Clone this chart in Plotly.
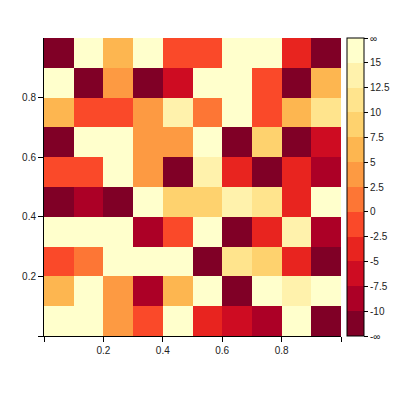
import numpy as np
import plotly.graph_objects as go

# cell centres along x and y (10 x 10 grid on [0, 1])
x_centers = [0.05, 0.15, 0.25, 0.35, 0.45, 0.55, 0.65, 0.75, 0.85, 0.95]
y_centers = [0.95, 0.85, 0.75, 0.65, 0.55, 0.45, 0.35, 0.25, 0.15, 0.05]  # top row first

# estimated values, top row first
row_1 = [-14.2, 19.5, 6.1, 17.8, -1.2, -0.8, 21.3, 16.4, -3.9, -13.1]
row_2 = [18.7, -12.5, 3.8, -15.6, -6.2, 20.9, 17.2, -1.4, -11.8, 6.4]
row_3 = [5.9, -1.6, -0.9, 4.2, 13.6, 1.3, 19.1, -1.1, 6.3, 11.4]
row_4 = [-16.3, 18.2, 22.4, 3.6, 4.4, 16.9, -12.9, 8.8, -14.7, -5.8]
row_5 = [-1.3, -0.7, 20.6, 4.1, -13.4, 13.2, -4.3, -17.1, -3.7, -8.9]
row_6 = [-12.2, -9.1, -15.9, 18.4, 9.2, 8.9, 13.9, 11.1, -4.1, 17.3]
row_7 = [16.8, 21.7, 19.9, -8.6, -1.5, 18.1, -14.4, -3.6, 13.4, -8.8]
row_8 = [-1.0, 1.4, 17.6, 20.2, 19.4, -13.8, 11.3, 9.4, -4.2, -15.2]
row_9 = [6.2, 18.9, 3.9, -9.3, 6.0, 16.2, -12.1, 20.8, 14.1, 17.7]
row_10 = [19.3, 16.6, 4.3, -1.3, 22.1, -3.8, -6.1, -8.7, 18.3, -14.9]
z_values = [row_1, row_2, row_3, row_4, row_5, row_6, row_7, row_8, row_9, row_10]

breaks = [-10, -7.5, -5, -2.5, 0, 2.5, 5, 7.5, 10, 12.5, 15]
level_labels = ["-\u221e", "-10", "-7.5", "-5", "-2.5", "0", "2.5", "5",
                "7.5", "10", "12.5", "15", "\u221e"]

x_ticks = [0, 0.2, 0.4, 0.6, 0.8, 1.0]
x_ticklabels = ["", "0.2", "0.4", "0.6", "0.8", ""]
y_ticks = [0, 0.2, 0.4, 0.6, 0.8]
y_ticklabels = ["", "0.2", "0.4", "0.6", "0.8"]

# YlOrRd interpolated to 12 levels, darkest first
colors = ["#800026", "#AC0026", "#CE0C22", "#E8241F", "#FA4929", "#FD7635",
          "#FD9A42", "#FDB650", "#FED26E", "#FFE48D", "#FFF2AC", "#FFFFCC"]
n = len(colors)
colorscale = []
for i, c in enumerate(colors):
    colorscale.append([i / n, c])
    colorscale.append([(i + 1) / n, c])

level = np.digitize(np.array(z_values), breaks) + 0.5

fig = go.Figure(
    go.Heatmap(
        x=x_centers,
        y=y_centers,
        z=level,
        customdata=z_values,
        zmin=0,
        zmax=n,
        colorscale=colorscale,
        hovertemplate="x=%{x}<br>y=%{y}<br>z=%{customdata}<extra></extra>",
        colorbar=dict(
            x=1.02,
            xanchor="left",
            xpad=0,
            y=0.5,
            yanchor="middle",
            len=1,
            ypad=0,
            thickness=17,
            outlinecolor="black",
            outlinewidth=1,
            tickmode="array",
            tickvals=list(range(n + 1)),
            ticktext=level_labels,
            ticks="outside",
            ticklen=4,
            tickcolor="black",
            tickfont=dict(size=10, color="#222"),
        ),
    )
)

fig.update_layout(
    width=400,
    height=400,
    margin=dict(l=36, r=67, t=30, b=72, autoexpand=False),
    plot_bgcolor="white",
    paper_bgcolor="white",
    font=dict(family="Liberation Sans, Arial, sans-serif", size=10, color="#222"),
    xaxis=dict(
        range=[0, 1],
        tickvals=x_ticks,
        ticktext=x_ticklabels,
        ticks="outside",
        ticklen=5,
        tickcolor="black",
        showline=True,
        linecolor="black",
        linewidth=1,
        showgrid=False,
        zeroline=False,
    ),
    yaxis=dict(
        range=[0, 1],
        tickvals=y_ticks,
        ticktext=y_ticklabels,
        ticks="outside",
        ticklen=5,
        tickcolor="black",
        showline=True,
        linecolor="black",
        linewidth=1,
        showgrid=False,
        zeroline=False,
    ),
)

fig.write_html("out.html")
